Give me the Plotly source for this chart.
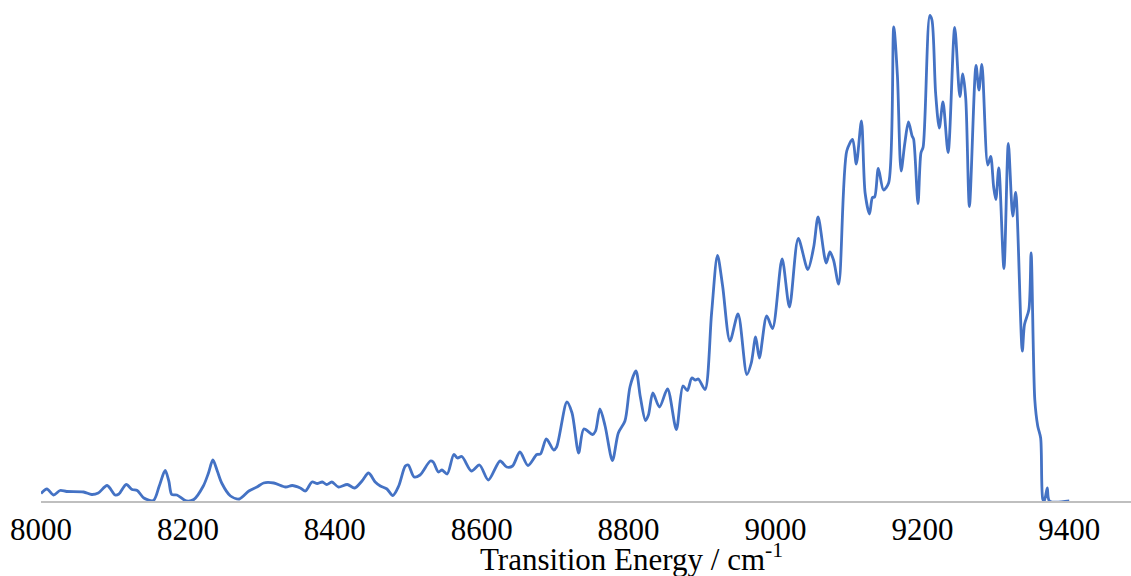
import plotly.graph_objects as go

# Absorption spectrum: transition energy (cm^-1) vs. intensity (arbitrary units)
energy = [
    8000, 8008, 8017, 8026, 8035, 8058, 8069, 8078, 8090, 8101,
    8106, 8116, 8124, 8131, 8140, 8153, 8161, 8169, 8174, 8178,
    8185, 8198, 8208, 8221, 8228, 8234, 8240, 8246, 8258, 8270,
    8283, 8294, 8303, 8317, 8333, 8342, 8353, 8360, 8369, 8376,
    8383, 8389, 8396, 8405, 8417, 8427, 8437, 8446, 8455, 8462,
    8471, 8479, 8487, 8496, 8500, 8508, 8516, 8530, 8534, 8541,
    8546, 8553, 8562, 8567, 8573, 8586, 8597, 8609, 8625, 8634,
    8642, 8652, 8663, 8675, 8680, 8688, 8698, 8702, 8716, 8723,
    8732, 8739, 8751, 8755, 8761, 8768, 8778, 8786, 8795, 8802,
    8810, 8816, 8823, 8827, 8833, 8842, 8853, 8865, 8874, 8880,
    8886, 8891, 8895, 8904, 8913, 8921, 8928, 8938, 8949, 8961,
    8967, 8973, 8978, 8988, 8996, 9009, 9019, 9031, 9044, 9052,
    9058, 9069, 9074, 9079, 9086, 9097, 9105, 9110, 9117, 9122,
    9128, 9132, 9135, 9140, 9147, 9154, 9161, 9166, 9171, 9176,
    9181, 9186, 9188, 9194, 9198, 9201, 9210, 9213, 9218, 9223,
    9228, 9235, 9244, 9251, 9255, 9259, 9264, 9273, 9277, 9281,
    9289, 9293, 9297, 9300, 9304, 9311, 9317, 9323, 9327, 9336,
    9339, 9345, 9348, 9353, 9357, 9361, 9364, 9366, 9370, 9373,
    9400,
]

intensity = [
    7.5, 12, 6, 10.5, 9.5, 9, 6.5, 8, 15.5, 6,
    7, 16.5, 11.5, 10.5, 3, 0.5, 15, 30.5, 20, 6.5,
    6, 0, 1.5, 15, 28, 41, 30, 18, 5, 2,
    10, 14, 18, 18, 14, 15.5, 13, 10, 19, 17.5,
    19, 16.5, 19, 14, 16.5, 13, 20, 28, 19, 15,
    12, 5.5, 15, 35, 36, 24, 26, 40, 39, 29,
    31, 27, 46.5, 43, 44.5, 30, 36, 21, 40, 34,
    35, 49, 35.5, 46.5, 47, 62, 51, 54, 99, 88,
    48, 72, 66.5, 70, 92, 75, 40.5, 68, 80, 114.5,
    130, 104, 80.5, 86, 108, 94, 112, 71.5, 115, 110.5,
    123, 121, 122, 111.5, 188, 245.5, 215, 160, 187, 126.5,
    138, 164, 143, 185, 172.5, 242, 194, 262.5, 231.5, 254,
    284, 238, 249, 241, 217, 350, 361.5, 337, 380, 308,
    287, 303.5, 304, 332.5, 311, 318, 474, 425, 330, 357.5,
    379, 365, 362, 297.5, 348, 354, 485.5, 481, 408, 373,
    399, 348.5, 473.5, 404.5, 427, 402.5, 294.5, 435.5, 411, 436.5,
    336, 344.5, 314, 301.5, 333, 232.5, 357.5, 285, 308.5, 150,
    176.5, 191.5, 248, 101.5, 75, 63, 1.5, 0, 13, 0,
    0,
]

x_ticks = [8000, 8200, 8400, 8600, 8800, 9000, 9200, 9400]

fig = go.Figure()
fig.add_trace(go.Scatter(
    x=energy,
    y=intensity,
    mode="lines",
    line=dict(color="#4472C4", width=2.8, shape="spline", smoothing=0.8),
    hoverinfo="skip",
    showlegend=False,
))

serif = "Liberation Serif, Times New Roman, serif"

fig.update_layout(
    width=1131,
    height=576,
    margin=dict(l=41, r=0, t=5, b=75),
    paper_bgcolor="white",
    plot_bgcolor="white",
    font=dict(family=serif, color="black"),
    xaxis=dict(
        range=[8000, 9484],
        tickvals=x_ticks,
        ticktext=[str(v) for v in x_ticks],
        tickfont=dict(family=serif, size=31, color="black"),
        showgrid=False,
        zeroline=False,
        showline=True,
        linecolor="#BFBFBF",
        linewidth=2,
        ticks="",
    ),
    yaxis=dict(
        range=[0, 496],
        showgrid=False,
        zeroline=False,
        showline=False,
        showticklabels=False,
        ticks="",
    ),
    annotations=[dict(
        text="Transition Energy / cm<sup>-1</sup>",
        xref="paper", yref="paper",
        x=0.542, y=-0.113,
        xanchor="center", yanchor="middle",
        showarrow=False,
        font=dict(family=serif, size=31, color="black"),
    )],
)

fig.write_html("out.html")
